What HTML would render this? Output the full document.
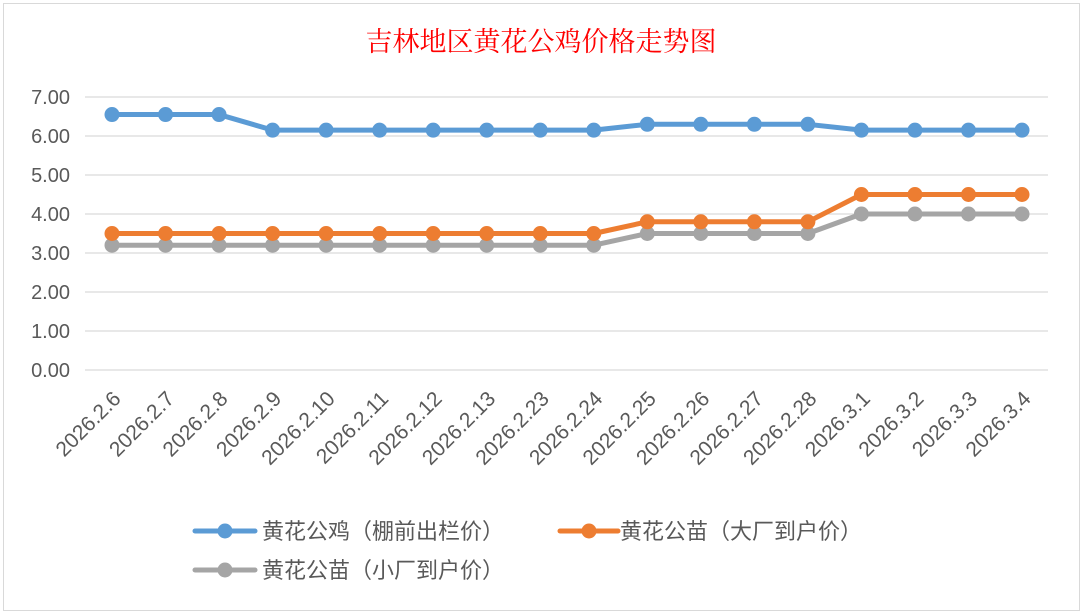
<!DOCTYPE html><html><head><meta charset="utf-8"><style>body{margin:0;background:#fff}svg{display:block}</style></head><body>
<svg width="1083" height="615" xmlns="http://www.w3.org/2000/svg" font-family="Liberation Sans, Noto Sans CJK SC, sans-serif">
<rect x="3.5" y="3.5" width="1076" height="607" fill="#fff" stroke="#d9d9d9"/>
<text x="541" y="51" text-anchor="middle" font-size="27" fill="#ff0000" font-family="Noto Serif CJK SC, serif">吉林地区黄花公鸡价格走势图</text>
<g stroke="#d9d9d9" stroke-width="1.3">
<line x1="85" x2="1048" y1="97" y2="97"/><line x1="85" x2="1048" y1="136" y2="136"/><line x1="85" x2="1048" y1="175" y2="175"/><line x1="85" x2="1048" y1="214" y2="214"/><line x1="85" x2="1048" y1="253" y2="253"/><line x1="85" x2="1048" y1="292" y2="292"/><line x1="85" x2="1048" y1="331" y2="331"/><line x1="85" x2="1048" y1="370" y2="370"/>
</g>
<g font-size="20" fill="#595959" text-anchor="end">
<text x="70" y="104">7.00</text><text x="70" y="143">6.00</text><text x="70" y="182">5.00</text><text x="70" y="221">4.00</text><text x="70" y="260">3.00</text><text x="70" y="299">2.00</text><text x="70" y="338">1.00</text><text x="70" y="377">0.00</text>
</g>
<g id="lbl" font-size="21" fill="#595959" text-anchor="end"></g>
<g id="series"></g>
<g font-size="22" fill="#595959" font-family="Noto Sans CJK SC, sans-serif">
<line x1="195" x2="255" y1="531" y2="531" stroke="#5b9bd5" stroke-width="5" stroke-linecap="round"/><circle cx="225" cy="531" r="7.5" fill="#5b9bd5"/>
<text x="262" y="539">黄花公鸡（棚前出栏价）</text>
<line x1="560" x2="618" y1="531" y2="531" stroke="#ed7d31" stroke-width="5" stroke-linecap="round"/><circle cx="589" cy="531" r="7.5" fill="#ed7d31"/>
<text x="620" y="539">黄花公苗（大厂到户价）</text>
<line x1="195" x2="255" y1="570" y2="570" stroke="#a5a5a5" stroke-width="5" stroke-linecap="round"/><circle cx="225" cy="570" r="7.5" fill="#a5a5a5"/>
<text x="262" y="578">黄花公苗（小厂到户价）</text>
</g>
</svg>
<script>
var L=["2026.2.6","2026.2.7","2026.2.8","2026.2.9","2026.2.10","2026.2.11","2026.2.12","2026.2.13","2026.2.23","2026.2.24","2026.2.25","2026.2.26","2026.2.27","2026.2.28","2026.3.1","2026.3.2","2026.3.3","2026.3.4"];
var S=[["#5b9bd5",[6.55,6.55,6.55,6.15,6.15,6.15,6.15,6.15,6.15,6.15,6.3,6.3,6.3,6.3,6.15,6.15,6.15,6.15]],
["#ed7d31",[3.5,3.5,3.5,3.5,3.5,3.5,3.5,3.5,3.5,3.5,3.8,3.8,3.8,3.8,4.5,4.5,4.5,4.5]],
["#a5a5a5",[3.2,3.2,3.2,3.2,3.2,3.2,3.2,3.2,3.2,3.2,3.5,3.5,3.5,3.5,4,4,4,4]]];
var ns="http://www.w3.org/2000/svg";function X(i){return 112+i*53.53}
var g=document.getElementById("lbl");
L.forEach(function(t,i){var e=document.createElementNS(ns,"text");var x=X(i)+10,y=400;e.setAttribute("x",x);e.setAttribute("y",y);e.setAttribute("transform","rotate(-45 "+x+" "+y+")");e.textContent=t;g.appendChild(e)});
var sg=document.getElementById("series");
S.slice().reverse().forEach(function(s){var p=s[1].map(function(v,i){return X(i)+","+(370-v*39)}).join(" ");
var pl=document.createElementNS(ns,"polyline");pl.setAttribute("points",p);pl.setAttribute("fill","none");pl.setAttribute("stroke",s[0]);pl.setAttribute("stroke-width","5");pl.setAttribute("stroke-linejoin","round");sg.appendChild(pl);
s[1].forEach(function(v,i){var c=document.createElementNS(ns,"circle");c.setAttribute("cx",X(i));c.setAttribute("cy",370-v*39);c.setAttribute("r","7.5");c.setAttribute("fill",s[0]);sg.appendChild(c)})});
</script>
</body></html>
